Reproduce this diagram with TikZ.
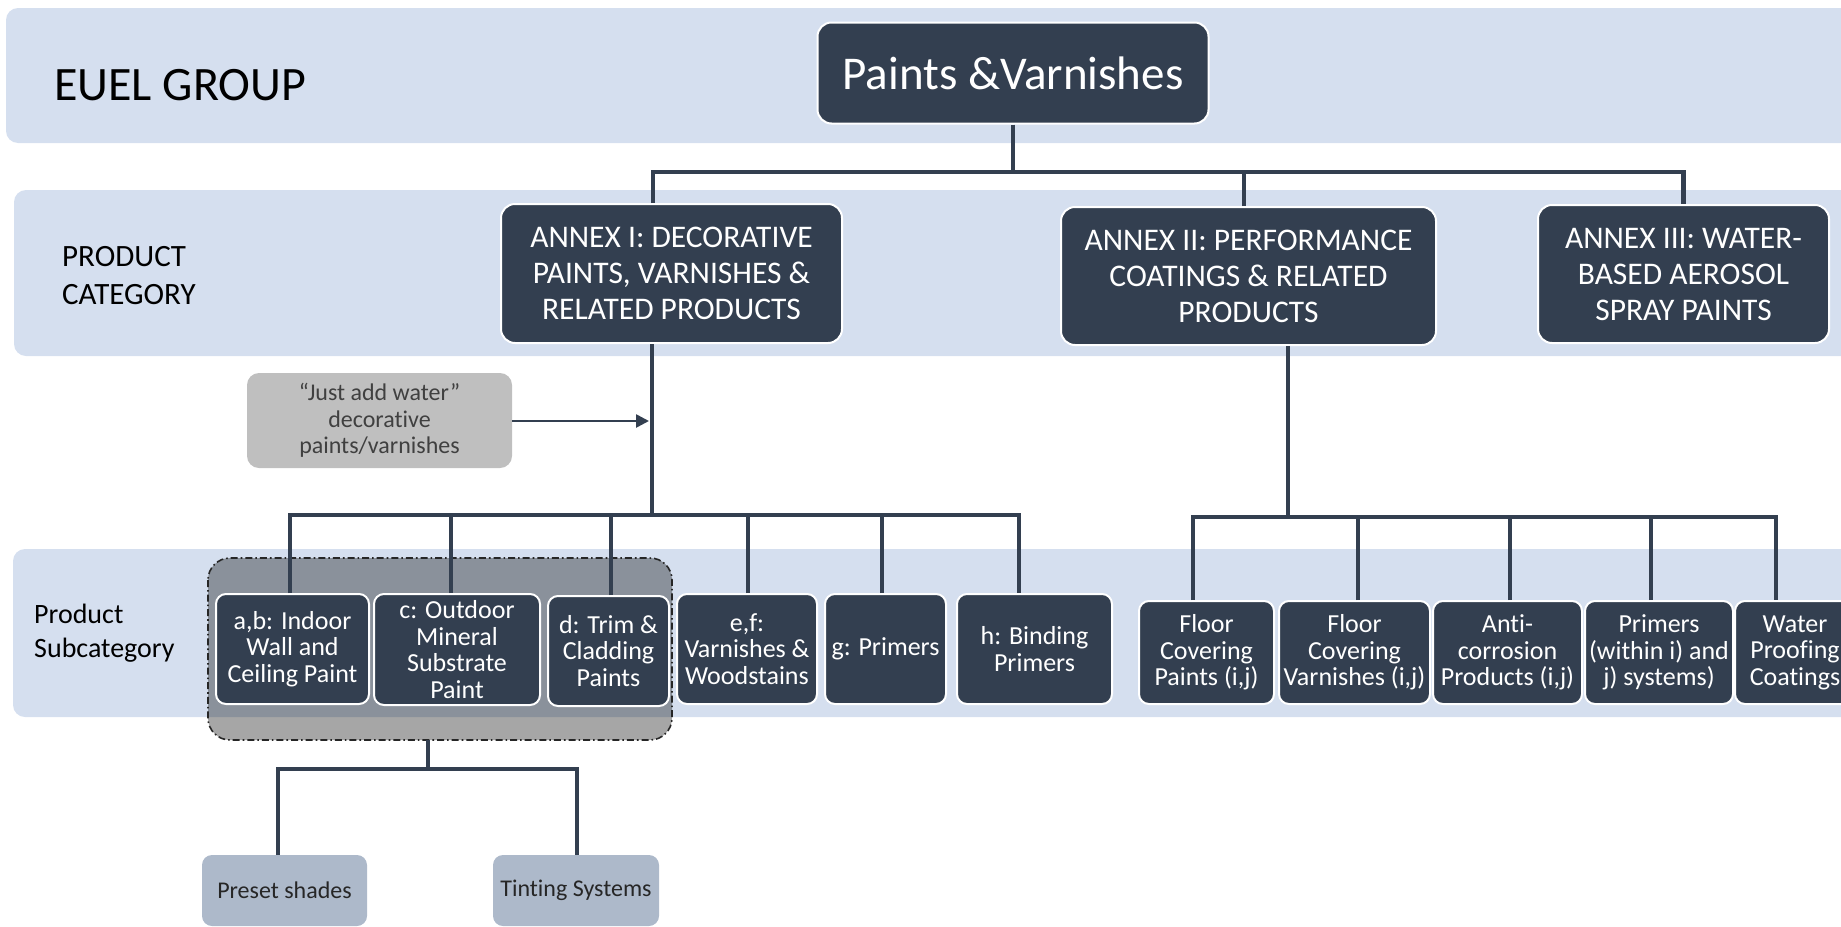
\documentclass[tikz,border=0pt]{standalone}
\usepackage{fontspec}
\setmainfont{Carlito}[Ligatures=NoCommon]
\usetikzlibrary{arrows.meta}
\definecolor{darkc}{HTML}{333F50}
\definecolor{bandc}{HTML}{D5DFEF}
\definecolor{grayc}{HTML}{BFBFBF}
\definecolor{graytext}{HTML}{404040}
\definecolor{lightc}{HTML}{ADB9CA}
\tikzset{
  band/.style={fill=bandc, draw=none, rounded corners=12pt},
  dbox/.style={fill=darkc, draw=white, line width=2pt, rounded corners=10pt, text=white,
    align=center, inner sep=0pt, font=\fontsize{26pt}{26.6pt}\selectfont},
  annex/.style={dbox, rounded corners=14pt, font=\fontsize{31.5pt}{36pt}\selectfont},
  conn/.style={draw=darkc, line width=4.2pt},
  lbox/.style={fill=lightc, draw=none, rounded corners=10pt, text=black!85, align=center,
    inner sep=0pt, font=\fontsize{24pt}{26pt}\selectfont},
  grp/.style={fill=black, fill opacity=0.35, draw=black!85, draw opacity=1, line width=1.6pt,
    dash pattern=on 7pt off 3pt on 1.6pt off 3pt, rounded corners=22pt},
  lbl/.style={anchor=west, align=left, inner sep=0pt, text=black}
}
\begin{document}
\begin{tikzpicture}[x=1pt,y=-1pt]
\useasboundingbox (0,0) rectangle (1841,926);
\clip (0,0) rectangle (1841,926);
% bands
\fill[band] (6,8) rectangle (1870,143);
\fill[band] (14,190) rectangle (1870,356);
\fill[band] (13,549) rectangle (1870,717);
% band labels
\node[lbl, font=\fontsize{48pt}{52pt}\selectfont] (euel) at (54,85) {EUEL GROUP};
\node[lbl, font=\fontsize{31pt}{38pt}\selectfont] (pcat) at (62,276) {PRODUCT\\CATEGORY};
\node[lbl, font=\fontsize{28pt}{34pt}\selectfont] (psub) at (34,633) {Product\\Subcategory};
% top
\node[dbox, rounded corners=14pt, font=\fontsize{47pt}{50pt}\selectfont,
  minimum width=391pt, minimum height=101pt] (pv) at (1013,73) {Paints \&Varnishes};
% annexes
\node[annex, minimum width=341pt, minimum height=139pt] (a1) at (671.5,273.5)
  {ANNEX I: DECORATIVE\\PAINTS, VARNISHES \&\\RELATED PRODUCTS};
\node[annex, minimum width=375pt, minimum height=138pt] (a2) at (1248.5,276)
  {ANNEX II: PERFORMANCE\\COATINGS \& RELATED\\PRODUCTS};
\node[annex, minimum width=291pt, minimum height=138pt] (a3) at (1683.5,274)
  {ANNEX III: WATER-\\BASED AEROSOL\\SPRAY PAINTS};
\coordinate (bus1) at (0,172);
\draw[conn] (pv.south) -- (pv.south |- bus1);
\draw[conn] ([xshift=-18.5pt]a1.north) |- (a3.north |- bus1) -- (a3.north);
\draw[conn] ([xshift=-4.5pt]a2.north) -- ([xshift=-4.5pt]a2.north |- bus1);
% just add water
\node[fill=grayc, rounded corners=12pt, text=graytext, align=center, inner sep=0pt,
  font=\fontsize{24pt}{26.4pt}\selectfont, minimum width=265pt, minimum height=95pt]
  (jw) at (379.5,420.5) {“Just add water”\\decorative\\paints/varnishes};
% group
\draw[grp] (208,558) rectangle (672,740);
\node[inner sep=0pt, minimum size=0pt] (grpS) at (428,740) {};
% subcategory boxes left
\node[dbox, minimum width=153pt, minimum height=110pt] (ab) at (292.5,649) {a,b: Indoor\\Wall and\\Ceiling Paint};
\node[dbox, minimum width=166pt, minimum height=111pt] (c) at (457,649.5) {c: Outdoor\\Mineral\\Substrate\\Paint};
\node[dbox, minimum width=121pt, minimum height=110pt] (d) at (608.5,651) {d: Trim \&\\Cladding\\Paints};
\node[dbox, minimum width=140pt, minimum height=110pt] (ef) at (747,649) {e,f:\\Varnishes \&\\Woodstains};
\node[dbox, minimum width=121pt, minimum height=110pt] (g) at (885.5,649) {g: Primers};
\node[dbox, minimum width=155pt, minimum height=110pt] (h) at (1034.5,649) {h: Binding\\Primers};
% subcategory boxes right
\node[dbox, minimum width=135pt, minimum height=103pt] (fcp) at (1206.5,652.5) {Floor\\Covering\\Paints (i,j)};
\node[dbox, minimum width=151pt, minimum height=103pt] (fcv) at (1354.5,652.5) {Floor\\Covering\\Varnishes (i,j)};
\node[dbox, minimum width=149pt, minimum height=103pt] (anti) at (1507.5,652.5) {Anti-\\corrosion\\Products (i,j)};
\node[dbox, minimum width=148pt, minimum height=103pt] (prim) at (1659,652.5) {Primers\\(within i) and\\j) systems)};
\node[dbox, minimum width=120pt, minimum height=103pt] (wat) at (1795,652.5) {Water\\Proofing\\Coatings};
% annex I connectors
\coordinate (bus2) at (0,515);
\draw[conn] ([xshift=-19.5pt]a1.south) -- ([xshift=-19.5pt]a1.south |- bus2);
\draw[conn] ([xshift=-2.5pt]ab.north) |- ([xshift=-15.5pt]h.north |- bus2) -- ([xshift=-15.5pt]h.north);
\draw[conn] ([xshift=-6pt]c.north) -- ([xshift=-6pt]c.north |- bus2);
\draw[conn] ([xshift=2.5pt]d.north) -- ([xshift=2.5pt]d.north |- bus2);
\draw[conn] ([xshift=1pt]ef.north) -- ([xshift=1pt]ef.north |- bus2);
\draw[conn] ([xshift=-3.5pt]g.north) -- ([xshift=-3.5pt]g.north |- bus2);
\coordinate (tip) at (649,421);
\draw[draw=darkc, line width=2.6pt, -{Triangle[length=13pt,width=13pt]}] (jw.east |- tip) -- (tip);
% annex II connectors
\coordinate (bus3) at (0,517);
\draw[conn] ([xshift=39.5pt]a2.south) -- ([xshift=39.5pt]a2.south |- bus3);
\draw[conn] ([xshift=-13.5pt]fcp.north) |- ([xshift=-19pt]wat.north |- bus3) -- ([xshift=-19pt]wat.north);
\draw[conn] ([xshift=3.5pt]fcv.north) -- ([xshift=3.5pt]fcv.north |- bus3);
\draw[conn] ([xshift=2.5pt]anti.north) -- ([xshift=2.5pt]anti.north |- bus3);
\draw[conn] ([xshift=-8pt]prim.north) -- ([xshift=-8pt]prim.north |- bus3);
% lower boxes
\node[lbox, minimum width=165pt, minimum height=71pt] (pre) at (284.5,890.5) {Preset shades};
\node[lbox, minimum width=166pt, minimum height=71pt] (tin) at (576,890.5) {Tinting Systems};
\coordinate (bus4) at (0,769);
\draw[conn] (grpS) -- (grpS |- bus4);
\draw[conn] ([xshift=-6.5pt]pre.north) |- ([xshift=1pt]tin.north |- bus4) -- ([xshift=1pt]tin.north);
\end{tikzpicture}
\end{document}
